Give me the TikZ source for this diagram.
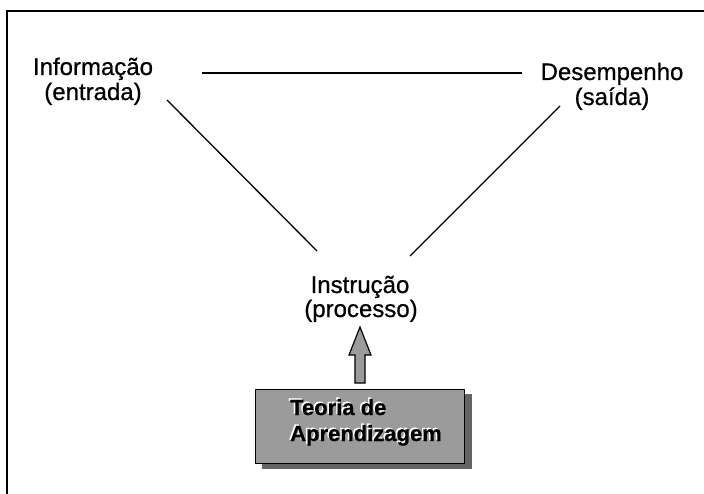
\documentclass[tikz,border=0pt]{standalone}
\usepackage{fontspec}
\setmainfont{Liberation Sans}
\newfontfamily\lblfont{Liberation Sans}[FakeBold=0.7]
\newfontfamily\boxfont{Liberation Sans Bold}[FakeBold=0.6]
\begin{document}
\begin{tikzpicture}[x=1pt,y=-1pt,
  lbl/.style={inner sep=0pt,align=center,font=\lblfont\fontsize{24}{25}\selectfont},
  conn/.style={line width=1.3pt,black},
  frameline/.style={line width=2pt,black},
  boxtxt/.style={inner sep=0pt,anchor=base west,font=\boxfont\fontsize{22}{24}\selectfont},
]
\useasboundingbox (0,0) rectangle (704,494);
% frame
\draw[frameline] (7,494) -- (7,11) -- (704,11);
% labels
\node[lbl,anchor=base] (info) at (93,75) {Informação};
\node[lbl,anchor=base] (infob) at (93,100) {(entrada)};
\node[lbl,anchor=base] (des) at (612,80) {Desempenho};
\node[lbl,anchor=base] (desb) at (612,105) {(saída)};
\node[lbl,anchor=base] (ins) at (360,293) {Instrução};
\node[lbl,anchor=base] (insb) at (361,317) {(processo)};
% connectors
\coordinate (h1) at (202,73);
\coordinate (h2) at (522,73);
\coordinate (l1) at (167,100);
\coordinate (l2) at (317,251);
\coordinate (r1) at (560,106);
\coordinate (r2) at (410,256);
\draw[conn] (h1) -- (h2);
\draw[conn] (l1) -- (l2);
\draw[conn] (r1) -- (r2);
% box with shadow
\fill[fill={rgb,255:red,100;green,100;blue,100}] (262,394) rectangle (472,469);
\node[draw=black,line width=1.2pt,fill={rgb,255:red,155;green,155;blue,155},
      minimum width=209pt,minimum height=74pt,inner sep=0pt] (box) at (360,426.5) {};
% block arrow
\coordinate (tip) at (360,327);
\filldraw[draw=black,line width=1.2pt,fill={rgb,255:red,155;green,155;blue,155}]
  (tip) -- (371,355) -- (365,355) -- (365,383) -- (355,383) -- (355,355) -- (349,355) -- cycle;
% box text with light halo
\node[boxtxt,white] at (288.5,413.5) {Teoria de};
\node[boxtxt,white] at (288.5,439.5) {Aprendizagem};
\node[boxtxt] (t1) at (290,415) {Teoria de};
\node[boxtxt] (t2) at (290,441) {Aprendizagem};
\end{tikzpicture}
\end{document}
